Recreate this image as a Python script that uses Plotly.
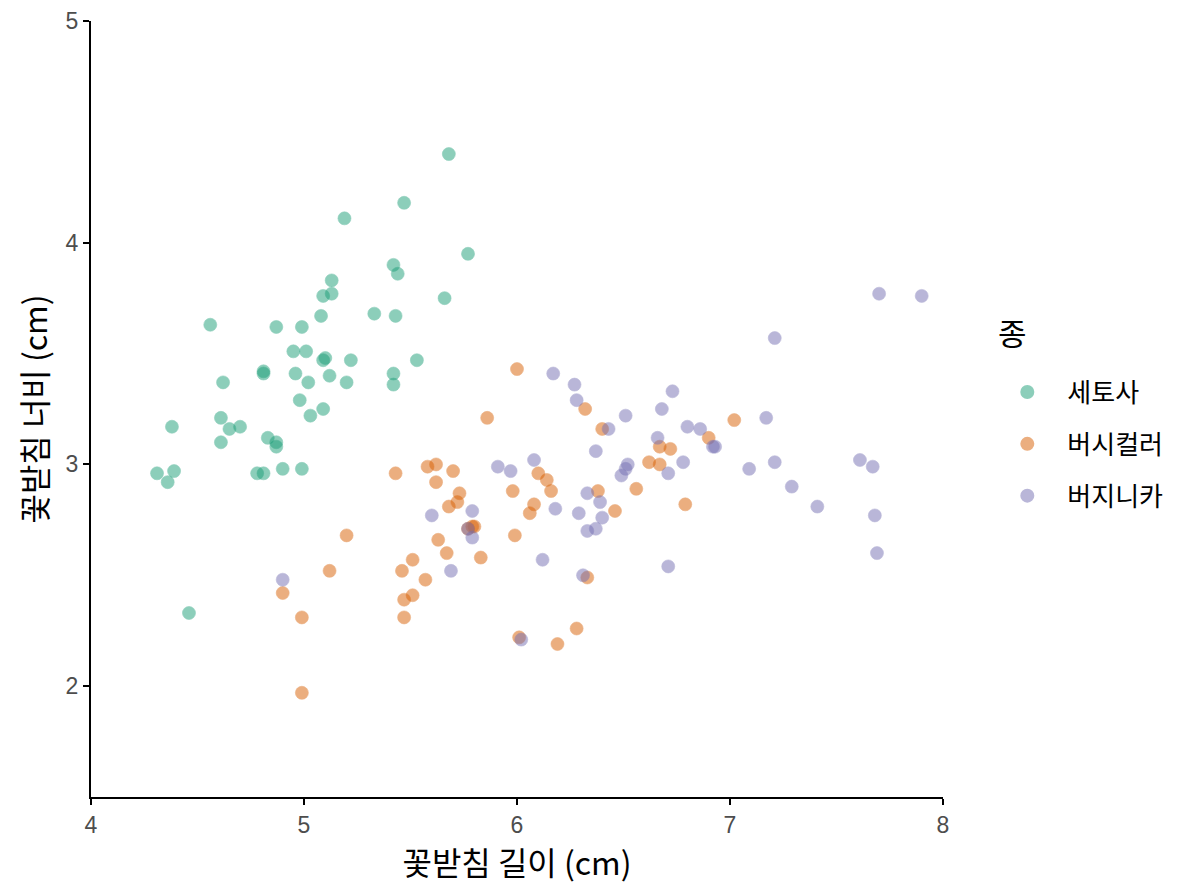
import plotly.graph_objects as go

# 꽃받침 길이 / 너비 (jittered iris)
setosa_x = [5.68, 5.47, 5.19, 5.77, 5.42, 5.44, 5.13, 5.13, 5.09, 5.66,
            4.56, 4.87, 4.99, 5.33, 5.08, 5.43, 4.95, 5.01, 5.10, 5.09,
            5.22, 5.53, 4.62, 4.81, 4.81, 4.96, 5.02, 5.12, 5.20, 5.42,
            5.42, 4.98, 5.09, 5.03, 4.61, 4.65, 4.70, 4.83, 4.87, 4.87,
            4.38, 4.61, 4.31, 4.36, 4.39, 4.78, 4.81, 4.90, 4.99, 4.46]
setosa_y = [4.40, 4.18, 4.11, 3.95, 3.90, 3.86, 3.83, 3.77, 3.76, 3.75,
            3.63, 3.62, 3.62, 3.68, 3.67, 3.67, 3.51, 3.51, 3.48, 3.47,
            3.47, 3.47, 3.37, 3.42, 3.41, 3.41, 3.37, 3.40, 3.37, 3.41,
            3.36, 3.29, 3.25, 3.22, 3.21, 3.16, 3.17, 3.12, 3.10, 3.08,
            3.17, 3.10, 2.96, 2.92, 2.97, 2.96, 2.96, 2.98, 2.98, 2.33]

versicolor_x = [6.00, 5.86, 6.32, 6.40, 7.02, 6.90, 6.67, 6.72, 6.62, 6.67,
                6.56, 6.79, 6.46, 6.38, 5.43, 5.58, 5.62, 5.70, 5.62, 5.73,
                5.72, 5.68, 5.80, 5.77, 5.63, 5.67, 5.83, 5.51, 5.46, 5.57,
                5.51, 5.47, 5.47, 6.10, 6.14, 6.16, 5.98, 6.08, 6.06, 5.99,
                6.33, 6.28, 6.19, 6.01, 5.20, 5.12, 4.90, 4.99, 4.99, 5.79]
versicolor_y = [3.43, 3.21, 3.25, 3.16, 3.20, 3.12, 3.08, 3.07, 3.01, 3.00,
                2.89, 2.82, 2.79, 2.88, 2.96, 2.99, 3.00, 2.97, 2.92, 2.87,
                2.83, 2.81, 2.72, 2.71, 2.66, 2.60, 2.58, 2.57, 2.52, 2.48,
                2.41, 2.39, 2.31, 2.96, 2.93, 2.88, 2.88, 2.82, 2.78, 2.68,
                2.49, 2.26, 2.19, 2.22, 2.68, 2.52, 2.42, 2.31, 1.97, 2.72]

virginica_x = [7.70, 7.90, 7.21, 6.73, 6.68, 6.51, 6.80, 6.86, 6.66, 6.92,
               6.93, 6.78, 6.71, 6.52, 6.51, 6.49, 7.17, 7.09, 7.21, 7.29,
               7.41, 7.61, 7.67, 7.68, 7.69, 6.71, 6.17, 6.27, 6.28, 6.43,
               6.37, 6.08, 5.91, 5.97, 6.33, 6.39, 6.18, 6.29, 6.40, 6.37,
               6.33, 5.60, 5.79, 5.77, 5.79, 5.69, 6.12, 6.31, 6.02, 4.90]
virginica_y = [3.77, 3.76, 3.57, 3.33, 3.25, 3.22, 3.17, 3.16, 3.12, 3.08,
               3.08, 3.01, 2.96, 3.00, 2.98, 2.95, 3.21, 2.98, 3.01, 2.90,
               2.81, 3.02, 2.99, 2.77, 2.60, 2.54, 3.41, 3.36, 3.29, 3.16,
               3.06, 3.02, 2.99, 2.97, 2.87, 2.83, 2.80, 2.78, 2.76, 2.71,
               2.70, 2.77, 2.79, 2.71, 2.67, 2.52, 2.57, 2.50, 2.21, 2.48]

species = ["세토사", "버시컬러", "버지니카"]
colors = ["#1B9E77", "#D95F02", "#7570B3"]
xs = [setosa_x, versicolor_x, virginica_x]
ys = [setosa_y, versicolor_y, virginica_y]

FONT = "Noto Sans CJK KR"
TICKFONT = "Liberation Sans"

fig = go.Figure()
for name, col, x, y in zip(species, colors, xs, ys):
    fig.add_trace(go.Scatter(
        x=x, y=y, mode="markers", name=name, legendgroup=name,
        marker=dict(size=13, color=col, opacity=0.5,
                    line=dict(width=0.6, color=col)),
    ))

axis_common = dict(
    showgrid=False, zeroline=False,
    showline=True, linecolor="black", linewidth=2,
    ticks="outside", ticklen=6, tickwidth=1.6, tickcolor="black",
    tickfont=dict(size=23, color="#4D4D4D", family=TICKFONT),
    ticklabeloverflow="allow",
)

# page body has an 8px margin, so the figure is a little smaller than the window
fig.update_layout(
    width=1184, height=880,
    plot_bgcolor="white", paper_bgcolor="white",
    margin=dict(l=83, r=249, t=13, b=91, autoexpand=False),
    font=dict(family=FONT, color="black"),
    xaxis=dict(range=[4, 8], tickvals=[4, 5, 6, 7, 8],
               title=dict(text="꽃받침 길이 (cm)", font=dict(size=32), standoff=4),
               **axis_common),
    yaxis=dict(range=[1.5, 5], tickvals=[2, 3, 4, 5],
               title=dict(text="꽃받침 너비 (cm)", font=dict(size=32), standoff=8),
               **axis_common),
    legend=dict(
        font=dict(size=26),
        x=1.052, xanchor="left", y=0.552, yanchor="top",
        tracegroupgap=15, itemsizing="constant", itemwidth=70,
    ),
    annotations=[dict(
        text="종", xref="paper", yref="paper", x=1.082, y=0.600,
        xanchor="center", yanchor="middle", showarrow=False,
        font=dict(size=31, family=FONT),
    )],
)

fig.write_html("out.html")
